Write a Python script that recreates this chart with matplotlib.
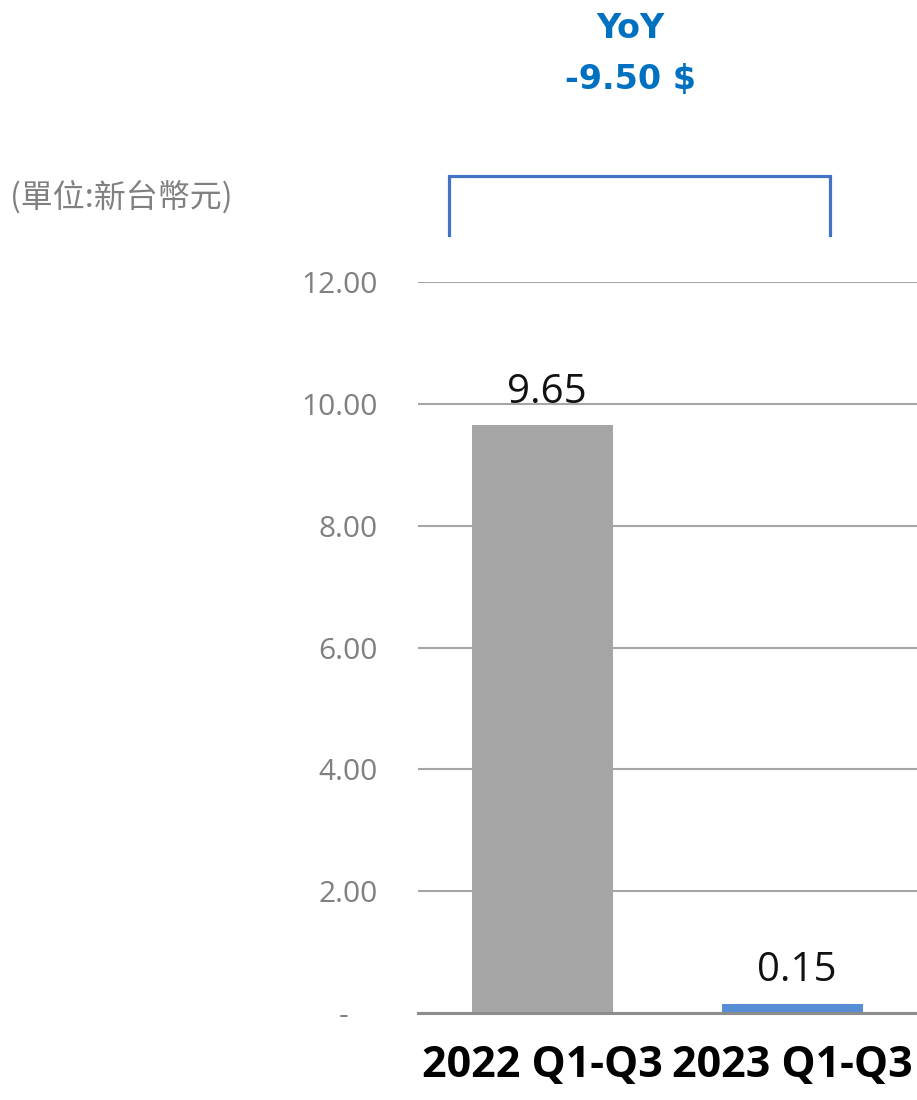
import matplotlib
matplotlib.use("Agg")
import matplotlib.pyplot as plt
from matplotlib.ticker import FixedLocator, FixedFormatter
from matplotlib.transforms import ScaledTranslation

plt.rcParams['font.family'] = ['Open Sans', 'Noto Sans CJK TC', 'DejaVu Sans']

# data
periods = ["2022 Q1-Q3", "2023 Q1-Q3"]
eps = [9.65, 0.15]
bar_colors = ["#A5A5A5", "#558ED5"]
yticks = [0, 2, 4, 6, 8, 10, 12]
ytick_labels = ["-", "2.00", "4.00", "6.00", "8.00", "10.00", "12.00"]
yoy_title = "YoY"
yoy_value = "-9.50 $"
unit_text = "(單位:新台幣元)"

fig = plt.figure(figsize=(9.17, 11), dpi=100)
ax = fig.add_axes([0.4558, 0.0791, 0.5442, 0.6645])

x = range(len(periods))
bars = ax.bar(x, eps, width=0.565, color=bar_colors, zorder=3)
ax.set_xlim(-0.5, 1.5)
ax.set_ylim(0, 12)

# value labels on top of bars
for i, v in enumerate(eps):
    ax.annotate(f"{v:.2f}", (i, v), xytext=(3, 9), textcoords="offset points",
                ha="center", va="bottom", fontsize=29, color="#111111")

ax.yaxis.set_major_locator(FixedLocator(yticks))
ax.yaxis.set_major_formatter(FixedFormatter(ytick_labels))
ax.tick_params(axis="y", length=0, pad=29, labelsize=21.5, labelcolor="#808080")
ax.set_xticks(list(x))
ax.set_xticklabels(periods, fontsize=31, fontweight="bold", color="black")
ax.tick_params(axis="x", length=0, pad=22)

# the zero label "-" sits further left
zero_lbl = ax.get_yticklabels()[0]
zero_lbl.set_transform(zero_lbl.get_transform() +
                       ScaledTranslation(-0.29, 0, fig.dpi_scale_trans))

ax.grid(axis="y", color="#A6A6A6", linewidth=1.5, zorder=0)
for s in ["top", "right", "left"]:
    ax.spines[s].set_visible(False)
ax.spines["bottom"].set_color("#8C8C8C")
ax.spines["bottom"].set_linewidth(2.2)
ax.spines["bottom"].set_zorder(4)

# YoY bracket above the bars
bx = [-0.376, -0.376, 1.151, 1.151]
by = [12.77, 13.74, 13.74, 12.77]
ax.plot(bx, by, color="#4472C4", linewidth=2.3, clip_on=False,
        solid_joinstyle="miter")

fig.text(0.688, 1 - 28 / 1100, yoy_title, ha="center", va="center", fontsize=24,
         fontweight="bold", color="#0070C0", family="DejaVu Sans")
fig.text(0.688, 1 - 80 / 1100, yoy_value, ha="center", va="center", fontsize=24,
         fontweight="bold", color="#0070C0", family="DejaVu Sans")
fig.text(0.011, 1 - 197 / 1100, unit_text, ha="left", va="center", fontsize=23,
         color="#808080", family=["Noto Sans CJK TC", "DejaVu Sans"])

fig.savefig("out.png", dpi=100)
